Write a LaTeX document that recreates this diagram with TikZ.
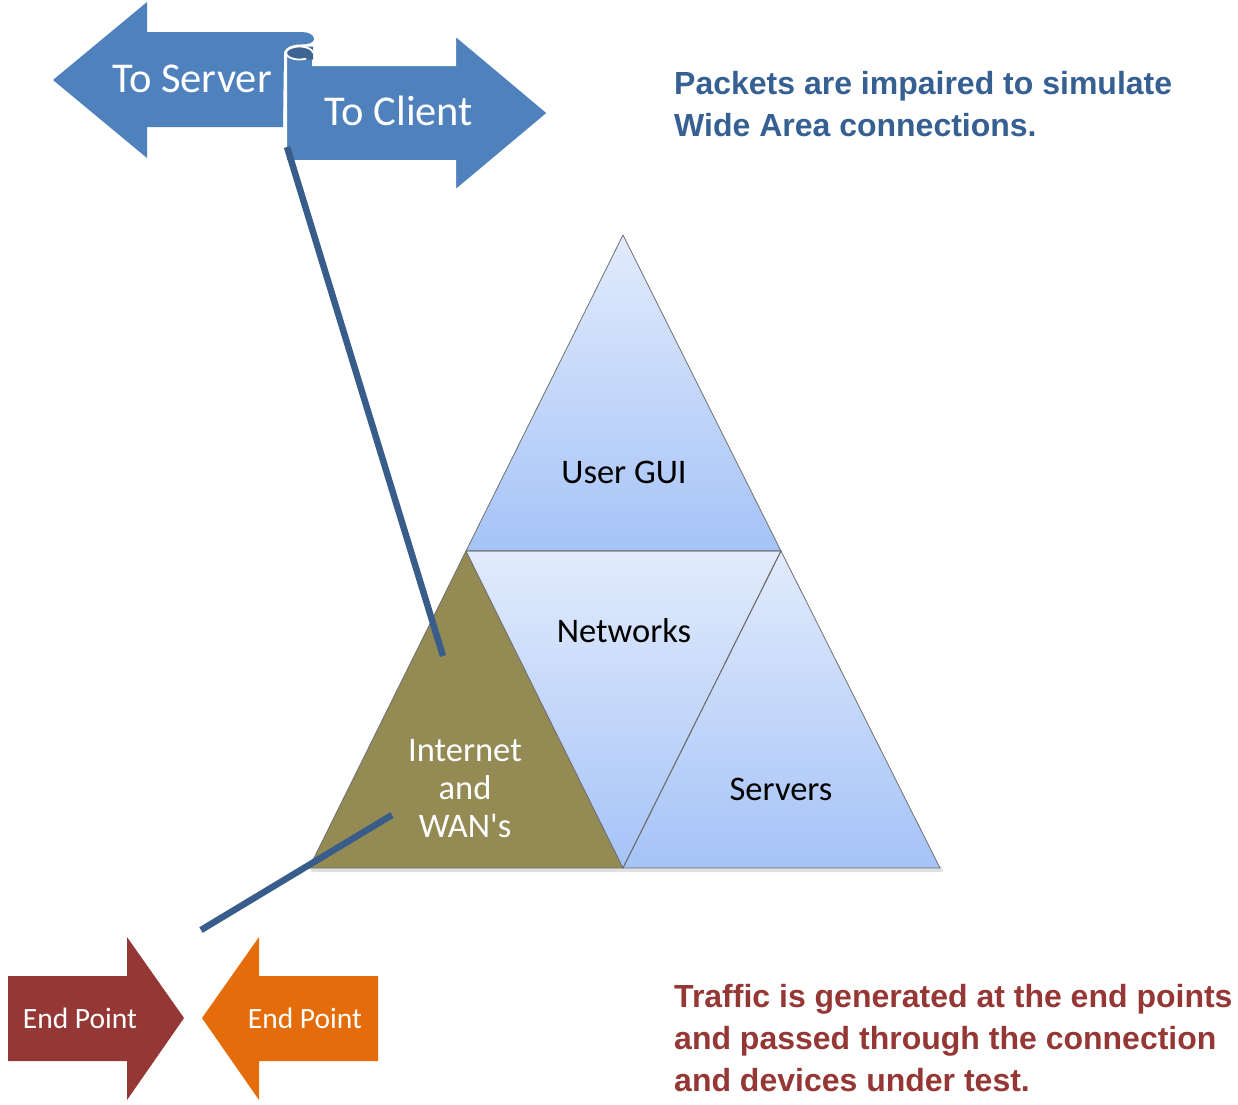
\documentclass[tikz,border=0pt]{standalone}
\usepackage{fontspec}
\setmainfont{Carlito}
\newfontfamily\arialbold{Liberation Sans}[BoldFont={Liberation Sans Bold}]
\definecolor{arrowblue}{HTML}{4F81BD}
\definecolor{scrolldark}{HTML}{3E6494}
\definecolor{linkblue}{HTML}{385D8A}
\definecolor{txtblue}{HTML}{376092}
\definecolor{txtred}{HTML}{953735}
\definecolor{epred}{HTML}{953735}
\definecolor{eporange}{HTML}{E46C0A}
\definecolor{olive}{HTML}{948A54}
\definecolor{triTop}{HTML}{E2EBFC}
\definecolor{triBot}{HTML}{A5C3F7}
\definecolor{edgegrey}{HTML}{6F6F6F}
\begin{document}
\begin{tikzpicture}[x=1pt,y=-1pt,
  bigarrow/.style={fill=arrowblue,draw=white,line width=2pt,line join=miter},
  tri/.style={top color=triTop,bottom color=triBot,draw=edgegrey,line width=0.8pt,line join=round},
  link/.style={draw=linkblue,line width=6.5pt},
  arrtext/.style={text=white,font=\fontsize{42.5}{50}\selectfont,inner sep=0pt},
  pyrtext/.style={font=\fontsize{34.5}{38}\selectfont,inner sep=0pt,align=center},
  eptext/.style={text=white,font=\fontsize{29.5}{34}\selectfont,inner sep=0pt},
  note/.style={font=\arialbold\bfseries\fontsize{32}{42}\selectfont,align=left,inner sep=0pt,anchor=west}]
\useasboundingbox (0,0) rectangle (1238,1104);

% ---------- pyramid ----------
\fill[black,opacity=0.12] (311,872) -- (943,872) -- (941,866) -- (310,866) -- cycle;
\shade[tri] (623,235) -- (781,551) -- (466,551) -- cycle;
\fill[olive,draw=edgegrey,line width=0.8pt,line join=round] (466,551) -- (623,868) -- (309,868) -- cycle;
\shade[tri] (466,551) -- (781,551) -- (623,868) -- cycle;
\shade[tri] (781,551) -- (940,868) -- (623,868) -- cycle;
\draw[edgegrey,line width=0.8pt] (466,551) -- (781,551) -- (623,868);

\node[pyrtext] (gui) at (624,472) {User GUI};
\node[pyrtext] (net) at (624,631) {Networks};
\node[pyrtext] (srv) at (781,789) {Servers};
\node[pyrtext,text=white] (wan) at (465,789) {Internet\\and\\WAN\textquotesingle s};

% ---------- top arrows ----------
\fill[arrowblue] (53,80) -- (147,2) -- (147,32) -- (302,32)
  .. controls (309,32) and (314,35) .. (314,39)
  .. controls (314,43) and (308,44.5) .. (300,44.5)
  .. controls (292,44.5) and (286,47) .. (284,52)
  -- (283,127) -- (147,127) -- (147,158) -- cycle;
% (y axis points down: angle 270 is the visual top of an arc)
\path[bigarrow] (286,161) -- (286,53)
  arc[start angle=180,end angle=360,x radius=13.5,y radius=6.5]
  -- (313,65) -- (455,65) -- (455,35) -- (548,113) -- (455,191) -- (455,161) -- cycle;
\fill[scrolldark] (313,46.5) -- (299.5,46.5)
  arc[start angle=270,end angle=90,x radius=13.5,y radius=6.5] -- (313,59.5) -- cycle;
\draw[white,line width=1.8pt] (286,53) arc[start angle=180,end angle=60,x radius=13.5,y radius=6.5];
\draw[white,line width=1.8pt] (286,53) arc[start angle=180,end angle=360,x radius=13.5,y radius=6.5];

\node[arrtext] (toserver) at (192,79) {To Server};
\node[arrtext] (toclient) at (399,111) {To Client};

% ---------- end point arrows ----------
\fill[epred] (8,976) -- (127,976) -- (127,937) -- (184,1018) -- (127,1100) -- (127,1061) -- (8,1061) -- cycle;
\fill[eporange] (378,976) -- (259,976) -- (259,937) -- (202,1018) -- (259,1100) -- (259,1061) -- (378,1061) -- cycle;
\node[eptext] (ep1) at (80,1018) {End Point};
\node[eptext] (ep2) at (305,1018) {End Point};

% ---------- connectors ----------
\coordinate (l1a) at (287,147);
\coordinate (l1b) at (443,656);
\coordinate (l2a) at (392,815);
\coordinate (l2b) at (201,930);
\draw[link] (l1a) -- (l1b);
\draw[link] (l2a) -- (l2b);

% ---------- notes ----------
\node[note,text=txtblue] (note1) at (674,104) {Packets are impaired to simulate\\Wide Area connections.};
\node[note,text=txtred] (note2) at (674,1038) {Traffic is generated at the end points\\and passed through the connection\\and devices under test.};
\end{tikzpicture}
\end{document}
